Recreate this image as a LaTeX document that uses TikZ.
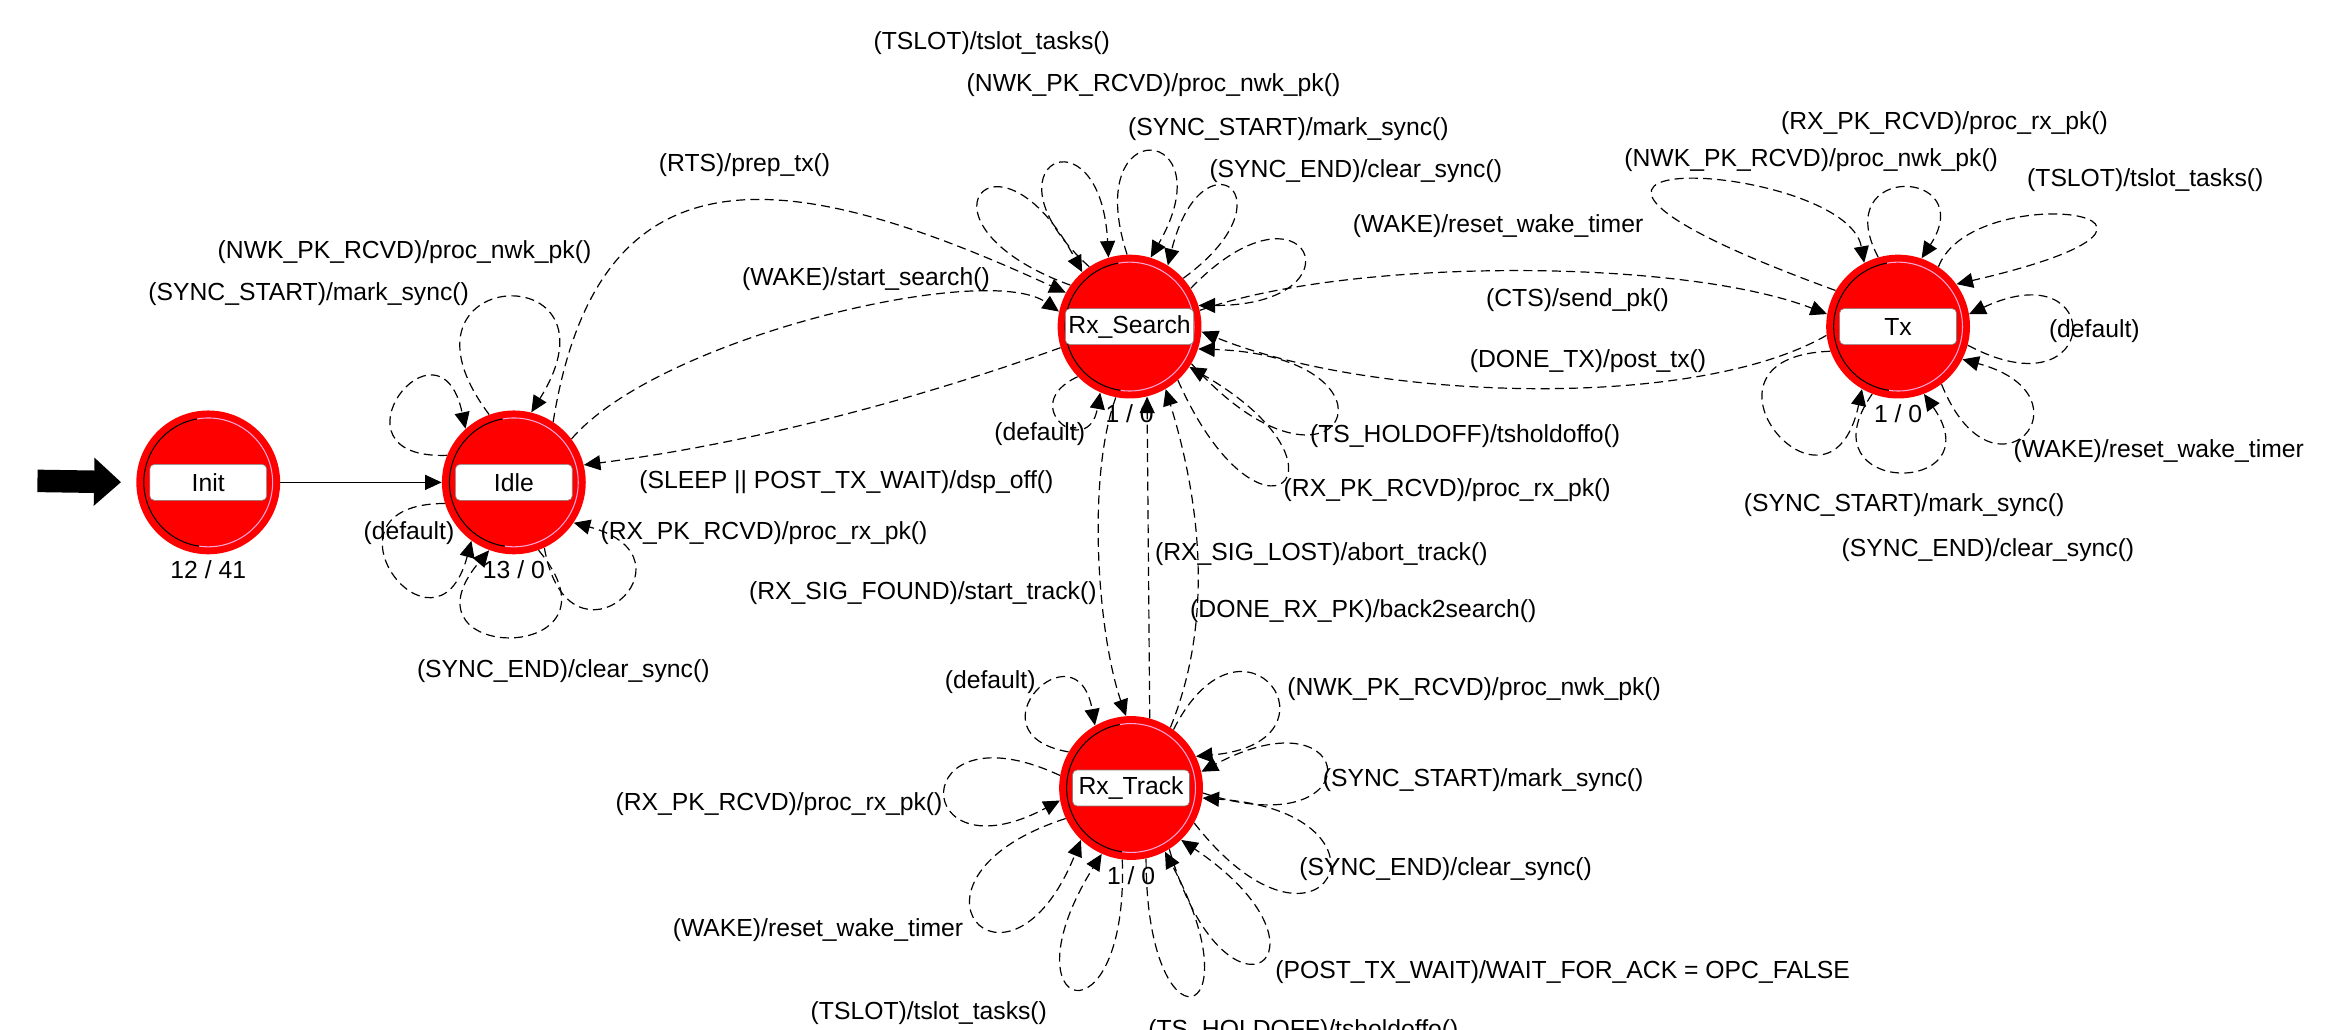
\documentclass[tikz,border=0pt]{standalone}
\usepackage{fontspec}
\setmainfont{Liberation Sans}
\usetikzlibrary{arrows.meta}
\newcommand\lblfont{\fontsize{16.5}{19}\selectfont}

\tikzset{
  state/.style={circle, fill=red, minimum size=96pt, inner sep=0pt,
    path picture={
      \draw[line width=0.7pt] (path picture bounding box.center) ++(100:43pt) arc[start angle=100, end angle=262, radius=43pt];
      \draw[line width=0.7pt, magenta!35] (path picture bounding box.center) ++(262:43pt) arc[start angle=262, end angle=460, radius=43pt];
    }},
  tag/.style={draw=gray, fill=white, rounded corners=3pt, minimum width=78pt, minimum height=24pt, inner sep=2pt, font=\lblfont},
  cnt/.style={fill=white, inner sep=1pt, label distance=3pt, font=\lblfont},
  lbl/.style={inner sep=0pt, font=\lblfont},
  trans/.style={dash pattern=on 6pt off 3.5pt, line width=0.8pt, -{Triangle[length=11pt,width=10pt]}},
  go/.style={line width=0.9pt, -{Triangle[length=11pt,width=10pt]}},
  entryarrow/.style={line width=15pt, -{Triangle[length=18pt,width=31pt]}, shorten >=10pt}
}

\begin{document}
\begin{tikzpicture}[x=1pt, y=-1pt]
\path[use as bounding box, fill=white] (0,0) rectangle (1568,687);

% states
\node[state, label={[tag]center:Init}, label={[cnt]below:12 / 41}] (init) at (139,322) {};
\node[state, label={[tag]center:Idle}, label={[cnt]below:13 / 0}] (idle) at (343,322) {};
\node[state, label={[tag]center:Rx\_Search}, label={[cnt]below:1 / 0}] (search) at (754,218) {};
\node[state, label={[tag]center:Tx}, label={[cnt]below:1 / 0}] (tx) at (1267,218) {};
\node[state, label={[tag]center:Rx\_Track}, label={[cnt]below:1 / 0}] (track) at (755,526) {};

% initial marker
\coordinate (entry) at (25,321);
\draw[entryarrow] (entry) -- (init.west);
\draw[go] (init.east) -- (idle.west);

% Idle
\draw[trans] (idle.158) .. controls +(182:84pt) and +(102:84pt) .. (idle.132);
\draw[trans] (idle.110) .. controls +(127:125pt) and +(58:125pt) .. (idle.76);
\draw[trans] (idle.197) .. controls +(180:92pt) and +(255:92pt) .. (idle.234);
\draw[trans] (idle.290) .. controls +(310:100pt) and +(230:100pt) .. (idle.250);
\draw[trans] (idle.295) .. controls +(280:92pt) and +(345:92pt) .. (idle.326);
\draw[trans] (idle.57) .. controls (400,90) and (530,112) .. (search.152);
\draw[trans] (idle.37) .. controls (440,225) and (659,174) .. (search.168);
\draw[trans] (search.197) .. controls (577,279) and (470,300) .. (idle.14);

\node[lbl] (i1) at (270,168) {(NWK\_PK\_RCVD)/proc\_nwk\_pk()};
\node[lbl] (i2) at (206,196) {(SYNC\_START)/mark\_sync()};
\node[lbl] (i3) at (273,356) {(default)};
\node[lbl] (i4) at (376,448) {(SYNC\_END)/clear\_sync()};
\node[lbl] (i5) at (510,356) {(RX\_PK\_RCVD)/proc\_rx\_pk()};
\node[lbl] (i6) at (497,110) {(RTS)/prep\_tx()};
\node[lbl] (i7) at (578,186) {(WAKE)/start\_search()};
\node[lbl] (i8) at (565,322) {(SLEEP || POST\_TX\_WAIT)/dsp\_off()};

% Rx_Search
\draw[trans] (search.145) .. controls +(160:120pt) and +(118:120pt) .. (search.131);
\draw[trans] (search.124) .. controls +(138:102pt) and +(93:102pt) .. (search.107);
\draw[trans] (search.92) .. controls +(108:102pt) and +(60:102pt) .. (search.73);
\draw[trans] (search.42) .. controls +(36:93pt) and +(76:93pt) .. (search.58);
\draw[trans] (search.32) .. controls +(46:112pt) and +(0:112pt) .. (search.17);
\draw[trans] (search.329) .. controls +(312:148pt) and +(358:148pt) .. (search.342);
\draw[trans] (search.312) .. controls +(294:136pt) and +(330:136pt) .. (search.326);
\draw[trans] (search.224) .. controls +(205:46pt) and +(260:46pt) .. (search.246);
\draw[trans] (search.13) .. controls (900,172) and (1122,172) .. (tx.170);
\draw[trans] (tx.187) .. controls (1130,275) and (914,267) .. (search.356);
\draw[trans] (search.259) .. controls (725,320) and (733,424) .. (track.94);
\draw[trans] (track.75) -- (search.284);
\draw[trans] (track.57) .. controls (808,420) and (804,344) .. (search.300);

\node[lbl] (s1) at (662,29) {(TSLOT)/tslot\_tasks()};
\node[lbl] (s2) at (770,57) {(NWK\_PK\_RCVD)/proc\_nwk\_pk()};
\node[lbl] (s3) at (860,86) {(SYNC\_START)/mark\_sync()};
\node[lbl] (s4) at (905,114) {(SYNC\_END)/clear\_sync()};
\node[lbl] (s5) at (1000,151) {(WAKE)/reset\_wake\_timer};
\node[lbl] (s6) at (1053,200) {(CTS)/send\_pk()};
\node[lbl] (s7) at (1060,241) {(DONE\_TX)/post\_tx()};
\node[lbl] (s8) at (978,291) {(TS\_HOLDOFF)/tsholdoffo()};
\node[lbl] (s9) at (966,327) {(RX\_PK\_RCVD)/proc\_rx\_pk()};
\node[lbl] (s10) at (694,290) {(default)};
\node[lbl] (s11) at (882,370) {(RX\_SIG\_LOST)/abort\_track()};
\node[lbl] (s12) at (910,408) {(DONE\_RX\_PK)/back2search()};
\node[lbl] (s13) at (616,396) {(RX\_SIG\_FOUND)/start\_track()};

% Tx
\draw[trans] (tx.150) .. controls +(160:300pt) and +(100:70pt) .. (tx.118);
\draw[trans] (tx.106) .. controls +(118:72pt) and +(57:72pt) .. (tx.71);
\draw[trans] (tx.56) .. controls +(69:64pt) and +(13:205pt) .. (tx.36);
\draw[trans] (tx.345) .. controls +(332:102pt) and +(25:102pt) .. (tx.10);
\draw[trans] (tx.307) .. controls +(292:94pt) and +(345:94pt) .. (tx.333);
\draw[trans] (tx.249) .. controls +(235:84pt) and +(305:84pt) .. (tx.291);
\draw[trans] (tx.200) .. controls +(182:104pt) and +(258:104pt) .. (tx.240);

\node[lbl] (x1) at (1298,82) {(RX\_PK\_RCVD)/proc\_rx\_pk()};
\node[lbl] (x2) at (1209,107) {(NWK\_PK\_RCVD)/proc\_nwk\_pk()};
\node[lbl] (x3) at (1432,120) {(TSLOT)/tslot\_tasks()};
\node[lbl] (x4) at (1398,221) {(default)};
\node[lbl] (x5) at (1441,301) {(WAKE)/reset\_wake\_timer};
\node[lbl] (x6) at (1271,337) {(SYNC\_START)/mark\_sync()};
\node[lbl] (x7) at (1327,367) {(SYNC\_END)/clear\_sync()};

% Rx_Track
\draw[trans] (track.150) .. controls +(170:70pt) and +(100:70pt) .. (track.120);
\draw[trans] (track.54) .. controls +(63:104pt) and +(5:104pt) .. (track.26);
\draw[trans] (track.356) .. controls +(342:120pt) and +(28:120pt) .. (track.13);
\draw[trans] (track.331) .. controls +(308:140pt) and +(356:140pt) .. (track.352);
\draw[trans] (track.302) .. controls +(286:136pt) and +(326:136pt) .. (track.314);
\draw[trans] (track.282) .. controls +(270:132pt) and +(298:132pt) .. (track.298);
\draw[trans] (track.263) .. controls +(272:127pt) and +(238:127pt) .. (track.246);
\draw[trans] (track.205) .. controls +(198:130pt) and +(248:130pt) .. (track.226);
\draw[trans] (track.170) .. controls +(155:114pt) and +(208:114pt) .. (track.190);

\node[lbl] (r1) at (661,455) {(default)};
\node[lbl] (r2) at (984,460) {(NWK\_PK\_RCVD)/proc\_nwk\_pk()};
\node[lbl] (r3) at (990,521) {(SYNC\_START)/mark\_sync()};
\node[lbl] (r4) at (965,580) {(SYNC\_END)/clear\_sync()};
\node[lbl] (r5) at (520,537) {(RX\_PK\_RCVD)/proc\_rx\_pk()};
\node[lbl] (r6) at (546,621) {(WAKE)/reset\_wake\_timer};
\node[lbl] (r7) at (1043,649) {(POST\_TX\_WAIT)/WAIT\_FOR\_ACK = OPC\_FALSE};
\node[lbl] (r8) at (620,676) {(TSLOT)/tslot\_tasks()};
\node[lbl] (r9) at (870,688) {(TS\_HOLDOFF)/tsholdoffo()};
\end{tikzpicture}
\end{document}
